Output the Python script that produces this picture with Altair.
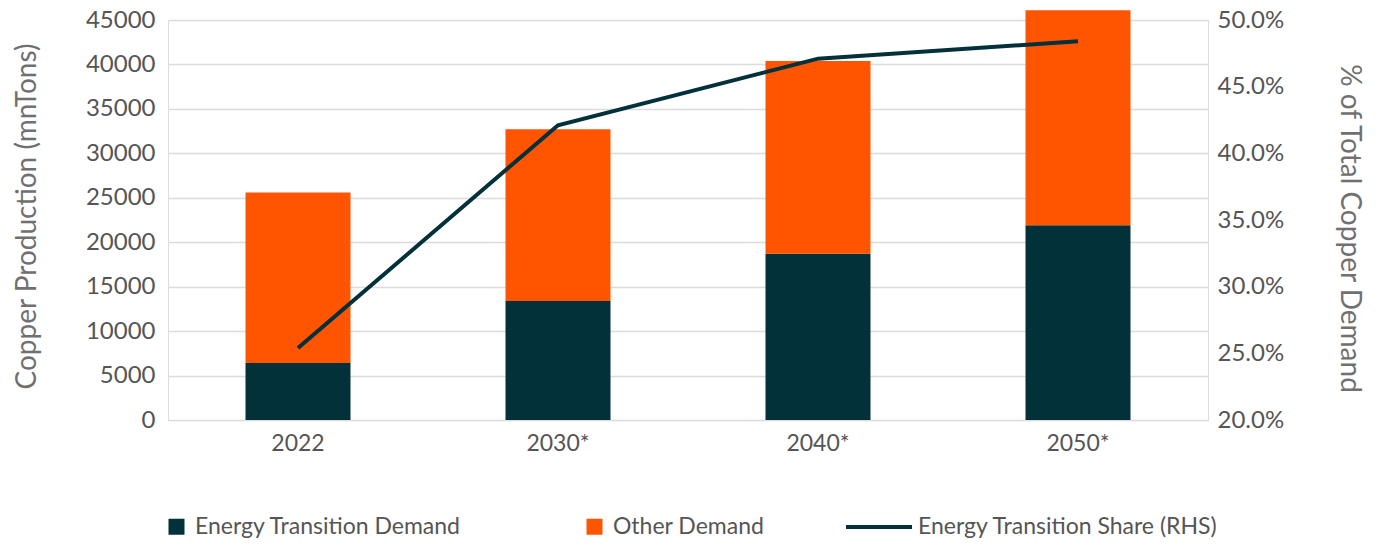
import altair as alt
import pandas as pd

years = ["2022", "2030*", "2040*", "2050*"]
energy_transition = [6400, 13400, 18700, 21900]
other_demand = [19200, 19300, 21700, 24200]
share_pct = [0.254, 0.421, 0.471, 0.484]

series_names = ["Energy Transition Demand", "Other Demand"]
line_name = "Energy Transition Share (RHS)"
left_ticks = [0, 5000, 10000, 15000, 20000, 25000, 30000, 35000, 40000, 45000]
right_ticks = [0.20, 0.25, 0.30, 0.35, 0.40, 0.45, 0.50]

DARK = "#02313a"
ORANGE = "#ff5500"
FONT = "Lato"
LABEL = "#555555"
TITLE = "#707070"

rows = []
for i, y in enumerate(years):
    rows.append({"year": y, "series": series_names[0], "value": energy_transition[i], "ord": 0})
    rows.append({"year": y, "series": series_names[1], "value": other_demand[i], "ord": 1})
bars_df = pd.DataFrame(rows)
line_df = pd.DataFrame({"year": years, "share": share_pct, "name": [line_name] * len(years)})

x_enc = alt.X("year:N", sort=years, title=None,
              scale=alt.Scale(paddingInner=0.0, paddingOuter=0.0),
              axis=alt.Axis(labelAngle=0, labelFontSize=23, labelColor=LABEL,
                            labelPadding=12, ticks=False, domain=False, grid=False))

bars = alt.Chart(bars_df).mark_bar(size=105).encode(
    x=x_enc,
    y=alt.Y("value:Q", stack="zero",
            scale=alt.Scale(domain=[0, 45000], nice=False, zero=True),
            axis=alt.Axis(title="Copper Production (mnTons)", values=left_ticks, format="d",
                          labelFontSize=24, labelColor=LABEL, labelPadding=13,
                          ticks=False, domain=False, grid=True, gridColor="#dcdcdc",
                          gridWidth=1.5, titleFontSize=28, titleColor=TITLE,
                          titleFontWeight="normal", titleAngle=-90,
                          titleX=-141, titleY=196, titleAlign="center",
                          titleBaseline="middle")),
    color=alt.Color("series:N", sort=series_names,
                    scale=alt.Scale(domain=series_names, range=[DARK, ORANGE]),
                    legend=alt.Legend(title=None, orient="none", legendX=-3, legendY=495,
                                      direction="horizontal", columns=2, columnPadding=121,
                                      symbolType="square", symbolSize=256,
                                      labelFontSize=23, labelColor=LABEL, labelLimit=500,
                                      labelOffset=7, labelFont=FONT)),
    order=alt.Order("ord:Q"),
)

line = alt.Chart(line_df).mark_line(strokeWidth=4).encode(
    x=alt.X("year:N", sort=years),
    y=alt.Y("share:Q",
            scale=alt.Scale(domain=[0.2, 0.5], nice=False, zero=False),
            axis=alt.Axis(title="% of Total Copper Demand", orient="right", values=right_ticks,
                          format=".1%", labelFontSize=24, labelColor=LABEL,
                          labelPadding=9, ticks=False, domain=False, grid=False,
                          titleFontSize=28, titleColor=TITLE, titleFontWeight="normal",
                          titleAngle=90, titleX=140, titleY=208, titleAlign="center",
                          titleBaseline="middle")),
    stroke=alt.Stroke("name:N",
                      scale=alt.Scale(domain=[line_name], range=[DARK]),
                      legend=alt.Legend(title=None, orient="none", legendX=676, legendY=472,
                                        symbolType="stroke", symbolSize=4356,
                                        symbolStrokeWidth=4, labelFontSize=23,
                                        labelColor=LABEL, labelOffset=4, labelLimit=500,
                                        labelFont=FONT)),
)

chart = alt.layer(bars, line).resolve_scale(
    y="independent", color="independent"
).properties(
    width=1040, height=400,
    autosize=alt.AutoSizeParams(type="none"),
    padding={"left": 160, "top": 12, "right": 169, "bottom": 118},
).configure_view(
    fill="#f4f7f8", stroke=None
).configure(
    font=FONT, background="white"
)

chart.save("out.html", embed_options={"renderer": "svg", "actions": False})
